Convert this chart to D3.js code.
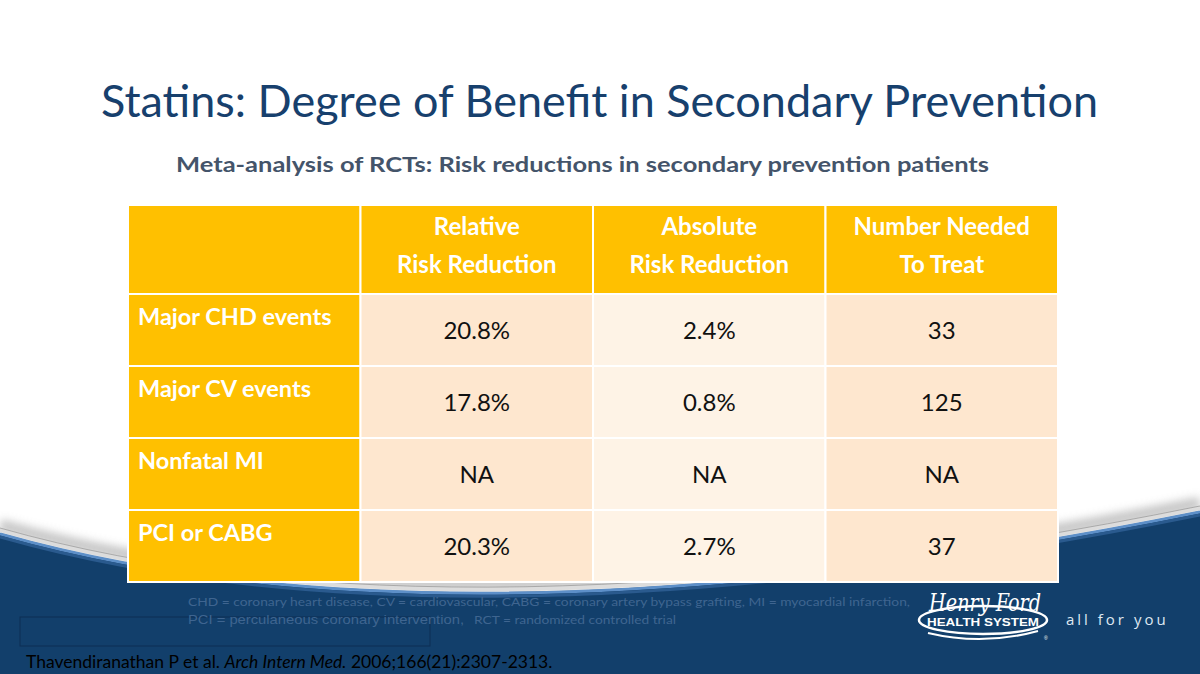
<!DOCTYPE html>
<html><head><meta charset="utf-8">
<script src="https://cdn.jsdelivr.net/npm/d3@7"></script>
<style>html,body{margin:0;padding:0;background:#fff;overflow:hidden}svg{display:block}</style>
</head><body>
<script>
const title = "Statins: Degree of Benefit in Secondary Prevention";
const subtitle = "Meta-analysis of RCTs: Risk reductions in secondary prevention patients";
const columnHeaders = [["Relative","Risk Reduction"],["Absolute","Risk Reduction"],["Number Needed","To Treat"]];
const rowLabels = ["Major CHD events","Major CV events","Nonfatal MI","PCI or CABG"];
const relativeRiskReduction = ["20.8%","17.8%","NA","20.3%"];
const absoluteRiskReduction = ["2.4%","0.8%","NA","2.7%"];
const numberNeededToTreat = ["33","125","NA","37"];
const footnote1 = "CHD = coronary heart disease, CV = cardiovascular, CABG = coronary artery bypass grafting, MI = myocardial infarction,";
const footnote2a = "PCI = perculaneous coronary intervention,";
const footnote2b = "RCT = randomized controlled trial";
const citationA = "Thavendiranathan P et al. ";
const citationB = "Arch Intern Med.";
const citationC = " 2006;166(21):2307-2313.";

const W = 1200, H = 674;
const svg = d3.select("body").append("svg").attr("width", W).attr("height", H);
const defs = svg.append("defs");
const blur = defs.append("filter").attr("id","blur").attr("x","-10%").attr("y","-50%").attr("width","120%").attr("height","200%");
blur.append("feGaussianBlur").attr("stdDeviation", 4);

// background swoosh
const curve = (dy) => `M0,${533+dy} C300,${618+dy} 700,${612+dy} 1200,${511+dy}`;
svg.append("path").attr("d", curve(-8)).attr("fill","none").attr("stroke","#b8b8b8").attr("stroke-width",12).attr("filter","url(#blur)").attr("opacity",0.8);
svg.append("path").attr("d", curve(-3)).attr("fill","none").attr("stroke","#dcdcdc").attr("stroke-width",4);
svg.append("path").attr("d", curve(-5)).attr("fill","none").attr("stroke","#8a8a8a").attr("stroke-width",1).attr("opacity",0.6);
svg.append("path").attr("d", curve(0) + ` L1200,${H} L0,${H} Z`).attr("fill","#123f6b");
svg.append("path").attr("d", curve(1)).attr("fill","none").attr("stroke","#5d8fc8").attr("stroke-width",3);
svg.append("path").attr("d", curve(4)).attr("fill","none").attr("stroke","#2a5a8e").attr("stroke-width",3);

// title
const fontMain = "Lato, 'Open Sans', sans-serif";
svg.append("text").attr("x", 101).attr("y", 117).attr("textLength", 997).attr("lengthAdjust","spacingAndGlyphs")
  .attr("font-family", fontMain).attr("font-size", 44).attr("fill","#17406d").text(title);
svg.append("text").attr("x", 176).attr("y", 172).attr("textLength", 813).attr("lengthAdjust","spacingAndGlyphs")
  .attr("font-family", fontMain).attr("font-weight","bold").attr("font-size", 20).attr("fill","#44546a").text(subtitle);

// table
const tableLeft = 128, tableRight = 1058, tableTop = 205, headerBottom = 294, tableBottom = 582;
const x = d3.scaleBand().domain(d3.range(4)).range([tableLeft, tableRight]).paddingInner(0);
const y = d3.scaleBand().domain(d3.range(rowLabels.length)).range([headerBottom, tableBottom]);
const table = svg.append("g");
const cellFill = ["#ffc000","#fee7cf","#fef3e6","#fee7cf"];

// header row
table.selectAll("rect.h").data(d3.range(4)).join("rect").attr("class","h")
  .attr("x", d => x(d)).attr("y", tableTop).attr("width", x.bandwidth()).attr("height", headerBottom - tableTop)
  .attr("fill","#ffc000").attr("stroke","#fff").attr("stroke-width",2);
const cells = [];
rowLabels.forEach((r,i) => {
  [r, relativeRiskReduction[i], absoluteRiskReduction[i], numberNeededToTreat[i]].forEach((v,j) => cells.push({i,j,v}));
});
table.selectAll("rect.c").data(cells).join("rect").attr("class","c")
  .attr("x", d => x(d.j)).attr("y", d => y(d.i)).attr("width", x.bandwidth()).attr("height", y.bandwidth())
  .attr("fill", d => cellFill[d.j]).attr("stroke","#fff").attr("stroke-width",2);

// header text
columnHeaders.forEach((lines, k) => {
  const cx = x(k+1) + x.bandwidth()/2;
  lines.forEach((t, li) => {
    table.append("text").attr("x", cx).attr("y", 235 + li*38).attr("text-anchor","middle")
      .attr("font-family", fontMain).attr("font-weight","bold").attr("font-size", 24).attr("fill","#fff").text(t);
  });
});
// row labels
table.selectAll("text.rl").data(rowLabels).join("text").attr("class","rl")
  .attr("x", tableLeft + 10).attr("y", (d,i) => y(i) + 31)
  .attr("font-family", fontMain).attr("font-weight","bold").attr("font-size", 23.5).attr("fill","#fff").text(d => d);
// values
table.selectAll("text.v").data(cells.filter(d => d.j > 0)).join("text").attr("class","v")
  .attr("x", d => x(d.j) + x.bandwidth()/2).attr("y", d => y(d.i) + y.bandwidth()/2 + 9)
  .attr("text-anchor","middle").attr("font-family", fontMain).attr("font-size", 24).attr("fill","#111").text(d => d.v);

// footnotes
svg.append("rect").attr("x", 20).attr("y", 617).attr("width", 410).attr("height", 29).attr("fill","none").attr("stroke","#0c2f54").attr("stroke-width",1);
svg.append("text").attr("x", 188).attr("y", 606).attr("textLength", 722).attr("lengthAdjust","spacingAndGlyphs")
  .attr("font-family", fontMain).attr("font-size", 12).attr("fill","#3f6590").text(footnote1);
svg.append("text").attr("x", 188).attr("y", 624).attr("textLength", 276).attr("lengthAdjust","spacingAndGlyphs")
  .attr("font-family", "'Liberation Sans', Arial, sans-serif").attr("font-size", 13.5).attr("fill","#3f6590").text(footnote2a);
svg.append("text").attr("x", 474).attr("y", 624).attr("textLength", 202).attr("lengthAdjust","spacingAndGlyphs")
  .attr("font-family", fontMain).attr("font-size", 12).attr("fill","#3f6590").text(footnote2b);

// citation
const cit = svg.append("text").attr("x", 26).attr("y", 668).attr("font-family", fontMain).attr("font-size", 17.5).attr("fill","#000");
cit.append("tspan").text(citationA);
cit.append("tspan").attr("font-style","italic").text(citationB);
cit.append("tspan").text(citationC);

// logo
const logo = svg.append("g");
logo.append("ellipse").attr("cx", 983).attr("cy", 620).attr("rx", 64).attr("ry", 14).attr("fill","none").attr("stroke","#fff").attr("stroke-width",2.5);
logo.append("path").attr("d","M928,633 Q983,646 1038,631").attr("fill","none").attr("stroke","#fff").attr("stroke-width",2);
logo.append("text").attr("x", 985).attr("y", 611).attr("text-anchor","middle").attr("font-family","'DejaVu Serif', serif").attr("font-style","italic")
  .attr("font-size", 24).attr("fill","#fff").attr("textLength", 112).attr("lengthAdjust","spacingAndGlyphs").text("Henry Ford");
logo.append("text").attr("x", 983).attr("y", 626).attr("text-anchor","middle").attr("font-family","'Liberation Sans', Arial, sans-serif").attr("font-weight","bold")
  .attr("font-size", 11.5).attr("fill","#fff").attr("textLength", 112).attr("lengthAdjust","spacingAndGlyphs").text("HEALTH SYSTEM");
logo.append("text").attr("x", 1044).attr("y", 640).attr("font-family","sans-serif").attr("font-size", 5).attr("fill","#fff").text("®");
svg.append("text").attr("x", 1066).attr("y", 625).attr("font-family","'Open Sans', sans-serif").attr("font-size", 15).attr("letter-spacing", 3)
  .attr("fill","#dfe8f2").text("all for you");
</script>
</body></html>
